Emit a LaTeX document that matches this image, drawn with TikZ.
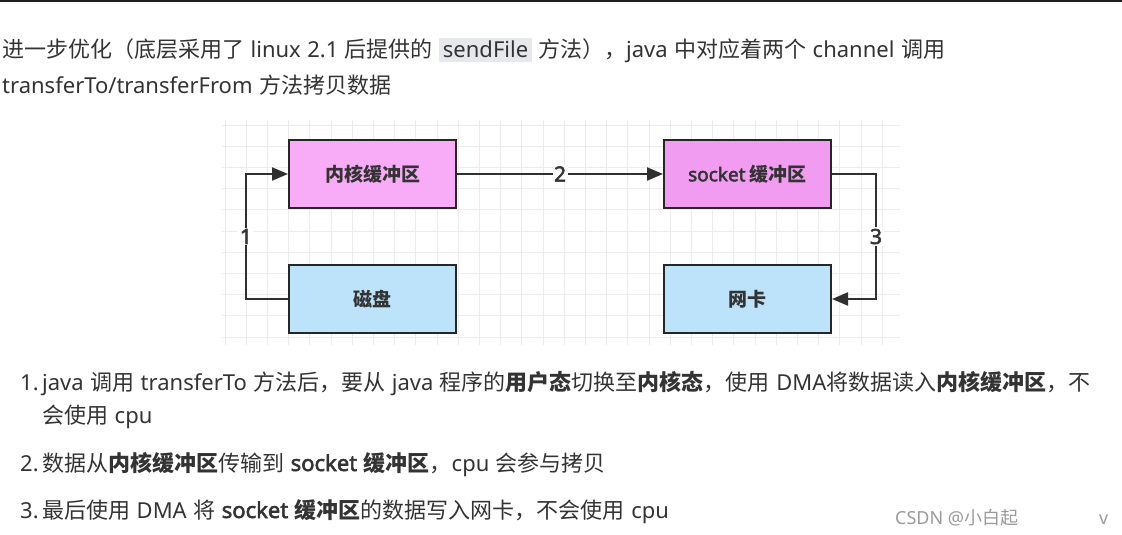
\documentclass[tikz,border=0pt]{standalone}
\usepackage{fontspec}
\setmainfont{Noto Sans CJK SC}
\newfontfamily\latinfont{Noto Sans}[Scale=1.0, AutoFakeBold=2.5]
\newcommand{\lat}[1]{{\latinfont #1}}
\newcommand{\widespaces}{\spaceskip=6.5pt\relax}
\usetikzlibrary{arrows.meta}

\definecolor{inkgray}{HTML}{333333}
\definecolor{boxline}{HTML}{262626}
\definecolor{linegray}{HTML}{303030}
\definecolor{pinkbuf}{HTML}{F8ACF8}
\definecolor{pinksock}{HTML}{F19CF1}
\definecolor{bluedev}{HTML}{BDE3FB}
\definecolor{gridgray}{HTML}{ECECEC}
\definecolor{codebg}{HTML}{E6E8EB}
\definecolor{wmgray}{HTML}{9A9A9A}

\tikzset{
  buffer/.style={draw=boxline, line width=2pt, fill=pinkbuf,
    minimum width=167pt, minimum height=68pt, inner sep=0pt,
    font=\fontsize{19}{19}\selectfont\bfseries, text=inkgray},
  device/.style={buffer, fill=bluedev},
  flow/.style={draw=linegray, line width=2.2pt,
    -{Triangle[length=16pt,width=13pt]}},
  numlbl/.style={fill=white, inner sep=1.5pt,
    font=\fontsize{21}{21}\selectfont\bfseries, text=inkgray},
  bodytext/.style={anchor=base west, inner sep=0pt,
    font=\fontsize{22}{22}\selectfont, text=inkgray},
  marktext/.style={anchor=base west, inner sep=0pt,
    font=\fontsize{18}{18}\selectfont, text=wmgray},
  gridline/.style={draw=gridgray, line width=1pt},
}

\begin{document}
\begin{tikzpicture}[x=1pt,y=-1pt]
  \useasboundingbox (0,0) rectangle (1122,535);
  % top edge of the window
  \draw[line width=2.5pt, color=black!88] (0,1) -- (1122,1);

  % intro text
  \node[bodytext] (intro1) at (2,58)
    {\widespaces 进一步优化（底层采用了 \lat{linux 2.1} 后提供的 {\fboxsep=3.5pt\colorbox{codebg}{\lat{sendFile}}} 方法），\lat{java} 中对应着两个 \lat{channel} 调用};
  \node[bodytext] (intro2) at (2,93)
    {\widespaces\lat{transferTo/transferFrom} 方法拷贝数据};

  % background grid
  \foreach \k in {0,...,31}
    \draw[gridline] (225+21.2*\k,120) -- (225+21.2*\k,345);
  \foreach \k in {0,...,10}
    \draw[gridline] (222,125+21.2*\k) -- (900,125+21.2*\k);

  % boxes
  \node[buffer] (kbuf) at (372.5,174) {内核缓冲区};
  \node[buffer, fill=pinksock] (sbuf) at (747.5,174) {\lat{socket} 缓冲区};
  \node[device] (disk) at (372.5,299) {磁盘};
  \node[device] (nic) at (747.5,299) {网卡};

  % copy steps
  \draw[flow] (disk.west) -- ++(-42,0) |- node[pos=0.25,numlbl] {\lat{1}} (kbuf.west);
  \draw[flow] (kbuf) -- node[numlbl] {\lat{2}} (sbuf);
  \draw[flow] (sbuf.east) -- ++(44,0) |- node[pos=0.25,numlbl] {\lat{3}} (nic.east);

  % numbered notes
  \node[bodytext] (num1) at (20,390) {\lat{1.}};
  \node[bodytext] (item1) at (42,390)
    {\widespaces\lat{java} 调用 \lat{transferTo} 方法后，要从 \lat{java} 程序的\textbf{用户态}切换至\textbf{内核态}，使用 \lat{DMA}将数据读入\textbf{内核缓冲区}，不};
  \node[bodytext] (item1b) at (42,423) {\widespaces 会使用 \lat{cpu}};
  \node[bodytext] (num2) at (20,471) {\lat{2.}};
  \node[bodytext] (item2) at (42,471)
    {\widespaces 数据从\textbf{内核缓冲区}传输到 \textbf{\lat{socket} 缓冲区}，\lat{cpu} 会参与拷贝};
  \node[bodytext] (num3) at (20,518) {\lat{3.}};
  \node[bodytext] (item3) at (42,518)
    {\widespaces 最后使用 \lat{DMA} 将 \textbf{\lat{socket} 缓冲区}的数据写入网卡，不会使用 \lat{cpu}};

  % watermark
  \node[marktext] (mark) at (895,524) {\lat{CSDN @}小白起};
  \node[marktext] (vmark) at (1099,524) {\lat{v}};
\end{tikzpicture}
\end{document}
